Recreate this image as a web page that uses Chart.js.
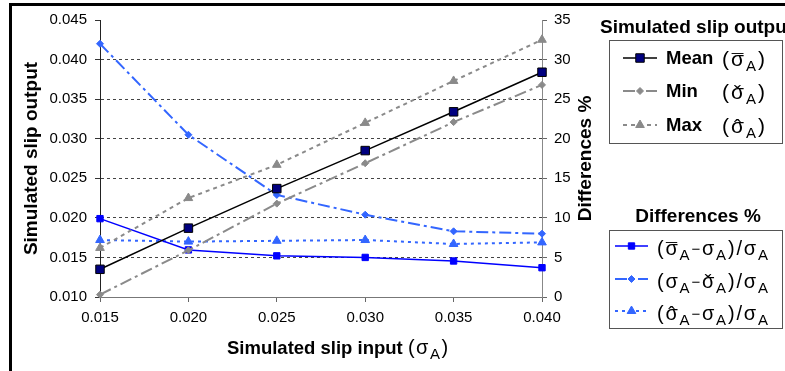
<!DOCTYPE html>
<html>
<head>
<meta charset="utf-8">
<script src="https://cdn.jsdelivr.net/npm/chart.js"></script>
<style>
html, body { margin: 0; padding: 0; background: #fff; }
</style>
</head>
<body>
<canvas id="chart" width="785" height="371"></canvas>
<script>
// data
const inputs = ['0.015', '0.020', '0.025', '0.030', '0.035', '0.040'];
const meanOut = [0.0135, 0.0187, 0.0237, 0.0285, 0.0334, 0.0384];
const minOut = [0.0103, 0.0159, 0.0218, 0.0269, 0.0321, 0.0368];
const maxOut = [0.0162, 0.0225, 0.0267, 0.0320, 0.0373, 0.0425];
const diffMean = [9.9, 5.95, 5.2, 5.0, 4.55, 3.7];
const diffMin = [32.0, 20.5, 12.9, 10.4, 8.3, 8.0];
const diffMax = [7.2, 7.0, 7.1, 7.2, 6.7, 6.9];
const leftTicks = [0.010, 0.045, 0.005];   // min, max, step
const rightTicks = [0, 35, 5];

const FONT = '"Liberation Sans", Arial, sans-serif';
function font(size, bold) { return (bold ? 'bold ' : '') + size + 'px ' + FONT; }

// line looks, shared by datasets and the hand drawn legends
const looks = {
    mean:  { color: '#000000', fill: '#000080', width: 1.5, dash: [], point: 'rect', r: 6 },
    min:   { color: '#8a8a8a', fill: '#8a8a8a', width: 2, dash: [12, 4, 3, 4], point: 'rectRot', r: 3.5 },
    max:   { color: '#8a8a8a', fill: '#8a8a8a', width: 2, dash: [4, 4], point: 'triangle', r: 5 },
    dMean: { color: '#0000ff', fill: '#0000ff', width: 1.5, dash: [], point: 'rect', r: 4.5 },
    dMin:  { color: '#3366ff', fill: '#3366ff', width: 2, dash: [12, 4, 3, 4], point: 'rectRot', r: 3.5 },
    dMax:  { color: '#3366ff', fill: '#3366ff', width: 2, dash: [3, 4], point: 'triangle', r: 5 }
};

function makeSet(data, lk, axis) {
    return {
        data: data,
        yAxisID: axis,
        borderColor: lk.color,
        borderWidth: lk.width,
        borderDash: lk.dash,
        pointStyle: lk.point,
        pointRadius: lk.r,
        pointBackgroundColor: lk.fill,
        pointBorderColor: lk === looks.mean ? '#000' : lk.fill,
        pointBorderWidth: 1,
        tension: 0,
        fill: false,
        clip: false
    };
}

function marker(ctx, lk, x, y) {
    const r = lk.r;
    ctx.save();
    ctx.setLineDash([]);
    ctx.fillStyle = lk.fill;
    ctx.strokeStyle = lk === looks.mean ? '#000' : lk.fill;
    ctx.lineWidth = 1;
    ctx.beginPath();
    if (lk.point === 'rect') {
        const s = r * Math.SQRT1_2;
        ctx.rect(x - s, y - s, 2 * s, 2 * s);
    } else if (lk.point === 'rectRot') {
        ctx.moveTo(x, y - r); ctx.lineTo(x + r, y); ctx.lineTo(x, y + r); ctx.lineTo(x - r, y);
        ctx.closePath();
    } else {
        let a = 0;
        ctx.moveTo(x + Math.sin(a) * r, y - Math.cos(a) * r);
        a += Math.PI * 2 / 3;
        ctx.lineTo(x + Math.sin(a) * r, y - Math.cos(a) * r);
        a += Math.PI * 2 / 3;
        ctx.lineTo(x + Math.sin(a) * r, y - Math.cos(a) * r);
        ctx.closePath();
    }
    ctx.fill();
    ctx.stroke();
    ctx.restore();
}

function sample(ctx, lk, x1, x2, y) {
    ctx.save();
    ctx.strokeStyle = lk.color;
    ctx.lineWidth = lk.width;
    ctx.setLineDash(lk.dash);
    ctx.beginPath();
    ctx.moveTo(x1, y); ctx.lineTo(x2, y);
    ctx.stroke();
    ctx.restore();
    marker(ctx, lk, (x1 + x2) / 2, y);
}

// pieces: [text, size, dy, accent]
function rich(ctx, x, y, pieces, gap) {
    ctx.textAlign = 'left';
    ctx.textBaseline = 'alphabetic';
    for (const p of pieces) {
        const t = p[0], size = p[1], dy = p[2] || 0, acc = p[3];
        ctx.font = font(size, false);
        ctx.fillText(t, x, y + dy);
        const w = ctx.measureText(t).width;
        if (acc) {
            ctx.textAlign = 'center';
            ctx.fillText(acc, x + w / 2, y + dy + (acc === '¯' ? 2 : 1));
            ctx.textAlign = 'left';
        }
        x += w + (gap || 0);
    }
    return x;
}

const SIG = 'σ';
function sigA(acc, size) { return [[SIG, size, 0, acc], ['A', 15, 5]]; }

const decorations = {
    id: 'decorations',
    afterDraw(chart) {
        const ctx = chart.ctx;
        const area = chart.chartArea;
        ctx.save();
        ctx.fillStyle = '#000';

        // outer frame (only top and left are in the picture)
        ctx.fillRect(9, 3, 3, 368);
        ctx.fillRect(9, 3, 776, 3);

        // axis titles
        ctx.font = font(19, true);
        ctx.textAlign = 'center';
        ctx.textBaseline = 'middle';
        ctx.save();
        ctx.translate(32, (area.top + area.bottom) / 2);
        ctx.rotate(-Math.PI / 2);
        ctx.fillText('Simulated slip output', 0, 0);
        ctx.restore();
        ctx.save();
        ctx.translate(586, (area.top + area.bottom) / 2);
        ctx.rotate(-Math.PI / 2);
        ctx.fillText('Differences %', 0, 0);
        ctx.restore();

        ctx.textAlign = 'left';
        ctx.textBaseline = 'alphabetic';
        ctx.font = font(18.5, true);
        const xt = 'Simulated slip input ';
        ctx.fillText(xt, 227, 354);
        let x = 227 + ctx.measureText(xt).width;
        rich(ctx, x, 354, [['(', 20]].concat(sigA(null, 20), [[')', 20]]), 1.5);

        // legend 1
        ctx.font = font(19, true);
        ctx.fillText('Simulated slip output', 600, 33);
        ctx.strokeStyle = '#555';
        ctx.lineWidth = 1;
        ctx.strokeRect(609.5, 40.5, 173, 103);
        const rows1 = [
            [looks.mean, 'Mean', '¯', 64],
            [looks.min, 'Min', 'ˇ', 97],
            [looks.max, 'Max', 'ˆ', 131]
        ];
        for (const r of rows1) {
            sample(ctx, r[0], 623, 657, r[3] - 6);
            ctx.fillStyle = '#000';
            ctx.font = font(18.5, true);
            ctx.fillText(r[1], 666, r[3]);
            rich(ctx, 722, r[3] + 2, [['(', 21]].concat(sigA(r[2], 21), [[')', 21]]), 2);
        }

        // legend 2
        ctx.font = font(19, true);
        ctx.textAlign = 'center';
        ctx.fillText('Differences %', 698, 222);
        ctx.textAlign = 'left';
        ctx.strokeRect(609.5, 230.5, 173, 98);
        const rows2 = [
            [looks.dMean, ['¯', null], 255],
            [looks.dMin, [null, 'ˇ'], 288],
            [looks.dMax, ['ˆ', null], 320]
        ];
        for (const r of rows2) {
            sample(ctx, r[0], 615, 648, r[2] - 9);
            ctx.fillStyle = '#000';
            const pcs = [['(', 20]]
                .concat(sigA(r[1][0], 20), [['−', 15, -1]], sigA(r[1][1], 20),
                        [[')', 20], ['/', 20]], sigA(null, 20));
            rich(ctx, 657, r[2], pcs, 1.8);
        }
        ctx.restore();
    }
};

new Chart(document.getElementById('chart').getContext('2d'), {
    type: 'line',
    data: {
        labels: inputs,
        datasets: [
            makeSet(meanOut, looks.mean, 'y'),
            makeSet(minOut, looks.min, 'y'),
            makeSet(maxOut, looks.max, 'y'),
            makeSet(diffMean, looks.dMean, 'y1'),
            makeSet(diffMin, looks.dMin, 'y1'),
            makeSet(diffMax, looks.dMax, 'y1')
        ]
    },
    options: {
        responsive: false,
        animation: false,
        layout: { padding: { top: 20, left: 0, right: 0, bottom: 0 } },
        plugins: { legend: { display: false }, tooltip: { enabled: false } },
        scales: {
            x: {
                offset: false,
                afterFit: s => { s.height = 74; },
                grid: { drawOnChartArea: false, drawTicks: true, tickLength: 5, tickColor: '#666' },
                border: { color: '#777', width: 1 },
                ticks: { color: '#000', font: { family: FONT, size: 15 }, padding: 7, maxRotation: 0 }
            },
            y: {
                position: 'left',
                min: leftTicks[0],
                max: leftTicks[1],
                afterFit: s => { s.width = 100; },
                grid: {
                    color: c => (c.tick && c.tick.value > 0.0101 && c.tick.value < 0.0449) ? '#444' : 'rgba(0,0,0,0)',
                    tickColor: '#333',
                    tickLength: 5,
                    lineWidth: 1
                },
                border: { color: '#222', width: 1, dash: [3, 3] },
                ticks: {
                    stepSize: leftTicks[2],
                    color: '#000',
                    font: { family: FONT, size: 15 },
                    padding: 8,
                    callback: v => Number(v).toFixed(3)
                }
            },
            y1: {
                position: 'right',
                min: rightTicks[0],
                max: rightTicks[1],
                afterFit: s => { s.width = 243; },
                grid: { drawOnChartArea: false, tickLength: 5, tickColor: '#666' },
                border: { color: '#888', width: 1 },
                ticks: { stepSize: rightTicks[2], color: '#000', font: { family: FONT, size: 15 }, padding: 7 }
            }
        }
    },
    plugins: [decorations]
});
</script>
</body>
</html>
